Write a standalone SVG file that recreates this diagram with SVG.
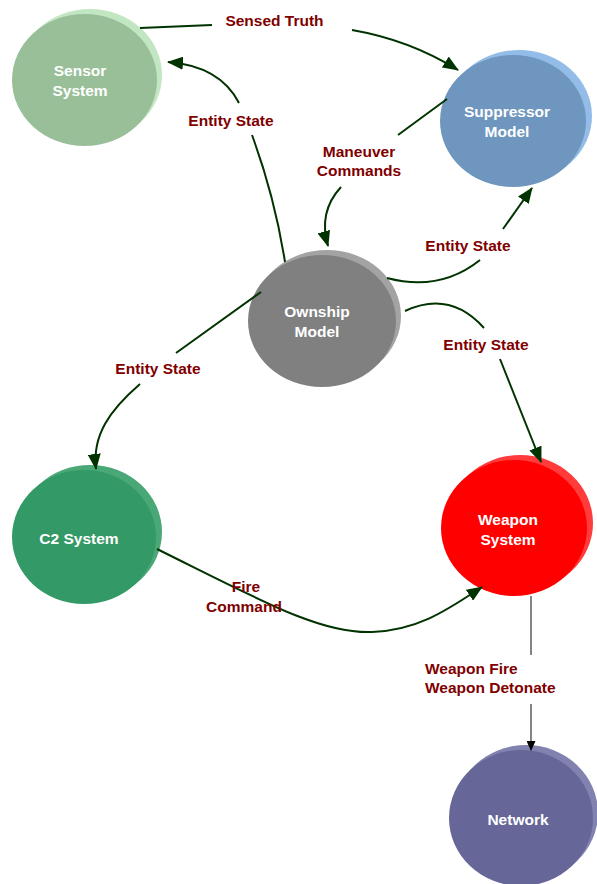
<svg xmlns="http://www.w3.org/2000/svg" width="597" height="884" viewBox="0 0 597 884">
<style>
.nt{font-family:"Liberation Sans",Arial,sans-serif;font-weight:bold;font-size:15.5px;fill:#ffffff;text-anchor:middle}
.lb{font-family:"Liberation Sans",Arial,sans-serif;font-weight:bold;font-size:15.5px;fill:#800000;text-anchor:middle}
.c{fill:none;stroke:#003300;stroke-width:2}
.g{fill:none;stroke:#333333;stroke-width:1.2}
</style>
<defs>
<marker id="ah" markerWidth="16" markerHeight="13" refX="15" refY="6.5" orient="auto" markerUnits="userSpaceOnUse">
<path d="M0,0 L16,6.5 L0,13 Z" fill="#003300"/>
</marker>
<marker id="ab" markerWidth="10" markerHeight="9" refX="9" refY="4.5" orient="auto" markerUnits="userSpaceOnUse">
<path d="M0,0 L10,4.5 L0,9 Z" fill="#000000"/>
</marker>
</defs>
<rect width="597" height="884" fill="#ffffff"/>
<g id="sensor">
<ellipse cx="90" cy="75" rx="72" ry="66" fill="#c2e6c2"/>
<ellipse cx="84.5" cy="80" rx="72.5" ry="66" fill="#98bf98"/>
<text class="nt" x="80" y="76">Sensor</text>
<text class="nt" x="80" y="96">System</text>
</g>
<g id="suppressor">
<ellipse cx="519" cy="116" rx="73" ry="66" fill="#93bde8"/>
<ellipse cx="513" cy="121" rx="73" ry="66" fill="#6e96be"/>
<text class="nt" x="507" y="117">Suppressor</text>
<text class="nt" x="507" y="137">Model</text>
</g>
<g id="ownship">
<ellipse cx="327" cy="316" rx="74" ry="66" fill="#a3a3a3"/>
<ellipse cx="322" cy="321" rx="74" ry="66" fill="#808080"/>
<text class="nt" x="317" y="317">Ownship</text>
<text class="nt" x="317" y="337">Model</text>
</g>
<g id="c2">
<ellipse cx="90" cy="532" rx="72" ry="67" fill="#4aa877"/>
<ellipse cx="84" cy="537" rx="72" ry="67" fill="#339966"/>
<text class="nt" x="79" y="544">C2 System</text>
</g>
<g id="weapon">
<ellipse cx="520" cy="523" rx="73" ry="68" fill="#ff3b3b"/>
<ellipse cx="514" cy="528" rx="73" ry="68" fill="#ff0000"/>
<text class="nt" x="508" y="525">Weapon</text>
<text class="nt" x="508" y="545">System</text>
</g>
<g id="network">
<ellipse cx="526" cy="813" rx="72" ry="68" fill="#8282b0"/>
<ellipse cx="521" cy="818" rx="72" ry="68" fill="#666699"/>
<text class="nt" x="518" y="825">Network</text>
</g>
<g id="connectors">
<path class="c" d="M140,28 L212,25"/>
<path class="c" d="M352,30 Q410,40 458,70" marker-end="url(#ah)"/>
<path class="c" d="M285,262 C276,205 263,165 252,135"/>
<path class="c" d="M239,103 Q220,66 168,62" marker-end="url(#ah)"/>
<path class="c" d="M447,99 L398,135"/>
<path class="c" d="M341,187 Q318,212 328,246" marker-end="url(#ah)"/>
<path class="c" d="M387,278 Q440,292 480,260"/>
<path class="c" d="M503,229 L532,188" marker-end="url(#ah)"/>
<path class="c" d="M405,311 Q450,290 484,328"/>
<path class="c" d="M500,359 L541,462" marker-end="url(#ah)"/>
<path class="c" d="M261,292 L176,353"/>
<path class="c" d="M140,384 C110,410 92,435 96,469" marker-end="url(#ah)"/>
<path class="c" d="M157,549 C260,600 320,634 372,632 C420,630 450,608 482,587" marker-end="url(#ah)"/>
<path class="g" d="M531,596 L531,655"/>
<path class="g" d="M531,704 L531,750" marker-end="url(#ab)"/>
</g>
<g id="labels">
<text class="lb" x="274.5" y="26">Sensed Truth</text>
<text class="lb" x="231" y="126">Entity State</text>
<text class="lb" x="359" y="157">Maneuver</text>
<text class="lb" x="359" y="176">Commands</text>
<text class="lb" x="468" y="251">Entity State</text>
<text class="lb" x="486" y="350">Entity State</text>
<text class="lb" x="158" y="374">Entity State</text>
<text class="lb" x="246" y="592">Fire</text>
<text class="lb" x="244" y="612">Command</text>
<text class="lb" x="425" y="674" style="text-anchor:start">Weapon Fire</text>
<text class="lb" x="425" y="693" style="text-anchor:start">Weapon Detonate</text>
</g>
</svg>
